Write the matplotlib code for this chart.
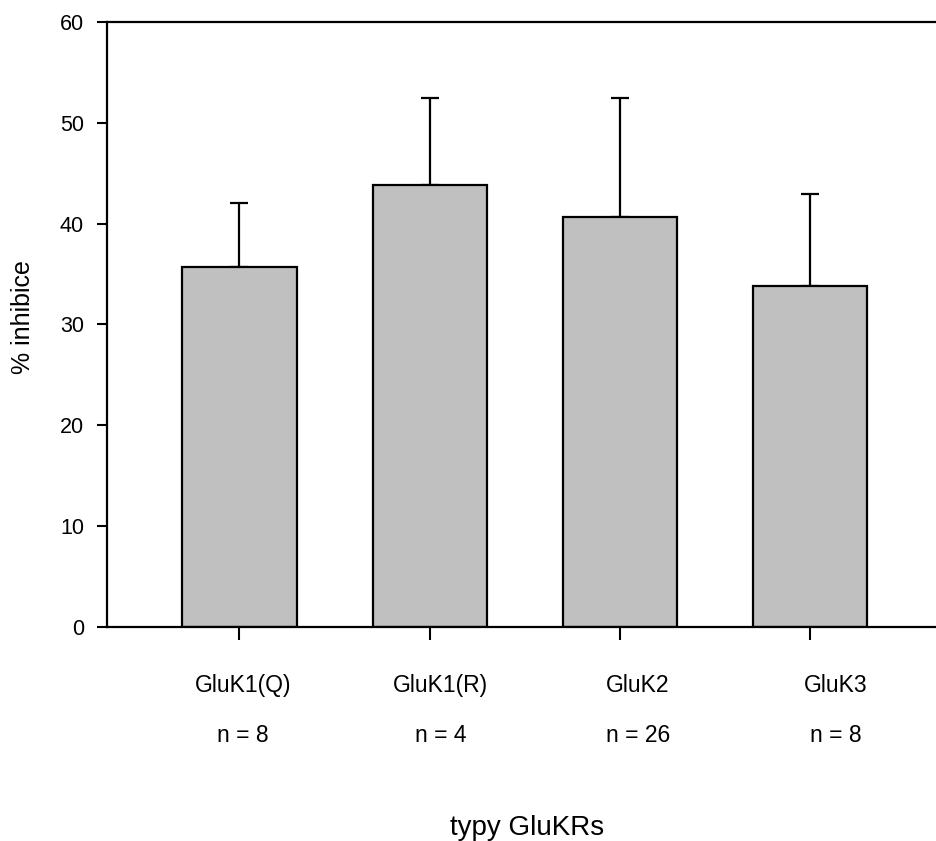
import matplotlib
matplotlib.use("Agg")
import matplotlib.pyplot as plt
import matplotlib.transforms as mtransforms
import numpy as np

plt.rcParams['font.family'] = ['Liberation Sans', 'DejaVu Sans']

# Kainate receptor subtypes, mean inhibition and SEM
receptors = ["GluK1(Q)", "GluK1(R)", "GluK2", "GluK3"]
n_cells = [8, 4, 26, 8]
inhibition = [35.7, 43.8, 40.7, 33.8]
sem = [6.3, 8.7, 11.8, 9.1]

fig = plt.figure(figsize=(9.36, 8.41), dpi=100)
ax = fig.add_axes([0.1143, 0.2545, 0.8857, 0.7194])

x = np.arange(len(receptors))
ax.bar(x, inhibition, width=0.6, color="#c0c0c0", edgecolor="black", linewidth=1.6, zorder=2)
ax.errorbar(x, inhibition, yerr=[np.zeros(len(sem)), sem], fmt="none",
            ecolor="black", elinewidth=1.6, capsize=6.5, capthick=1.6, zorder=1)

ax.set_xlim(-0.696, 3.66)
ax.set_ylim(0, 60)
ax.set_yticks(np.arange(0, 61, 10))
ax.set_xticks(x)
ax.set_xticklabels([])

for side in ["left", "bottom", "top"]:
    ax.spines[side].set_linewidth(1.6)
ax.spines["right"].set_visible(False)

ax.tick_params(axis="y", direction="out", length=7.5, width=1.5, labelsize=15.5, pad=9)
ax.tick_params(axis="x", direction="out", length=9, width=1.5)

# category names and group sizes, spaced a little wider than the bars
label_x = 0.02 + 1.037 * x
trans = mtransforms.blended_transform_factory(ax.transData, ax.transAxes)
for lx, name, n in zip(label_x, receptors, n_cells):
    ax.text(lx, -0.0975, name, transform=trans, ha="center", va="center", fontsize=16.5)
    ax.text(lx, -0.179, f"n = {n}", transform=trans, ha="center", va="center", fontsize=16.5)

fig.text(23 / 936, 1 - 317 / 841, "% inhibice", rotation=90, ha="center", va="center", fontsize=18)
fig.text(527 / 936, 1 - 828 / 841, "typy GluKRs", ha="center", va="center", fontsize=20)

fig.savefig("out.png", dpi=100)
